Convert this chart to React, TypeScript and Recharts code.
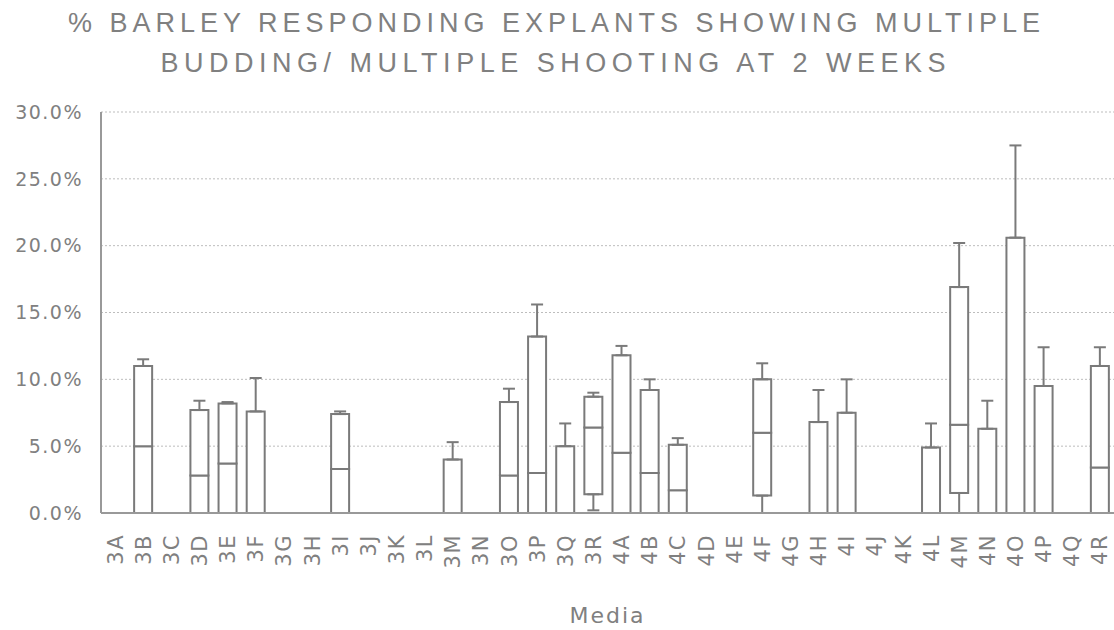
import { Bar, BarChart, CartesianGrid, ErrorBar, XAxis, YAxis } from 'recharts';

const media = [
  '3A', '3B', '3C', '3D', '3E', '3F', '3G', '3H', '3I', '3J', '3K', '3L', '3M', '3N', '3O', '3P', '3Q', '3R',
  '4A', '4B', '4C', '4D', '4E', '4F', '4G', '4H', '4I', '4J', '4K', '4L', '4M', '4N', '4O', '4P', '4Q', '4R',
];

// box plot parts, % of responding explants
const whiskerMin = [
  0, 0, 0, 0, 0, 0, 0, 0, 0, 0, 0, 0, 0, 0, 0, 0, 0, 0.2,
  0, 0, 0, 0, 0, 0, 0, 0, 0, 0, 0, 0, 0, 0, 0, 0, 0, 0,
];
const boxLow = [
  0, 0, 0, 0, 0, 0, 0, 0, 0, 0, 0, 0, 0, 0, 0, 0, 0, 1.4,
  0, 0, 0, 0, 0, 1.3, 0, 0, 0, 0, 0, 0, 1.5, 0, 0, 0, 0, 0,
];
const median = [
  0, 5.0, 0, 2.8, 3.7, 0, 0, 0, 3.3, 0, 0, 0, 0, 0, 2.8, 3.0, 0, 6.4,
  4.5, 3.0, 1.7, 0, 0, 6.0, 0, 0, 0, 0, 0, 0, 6.6, 0, 0, 0, 0, 3.4,
];
const boxHigh = [
  0, 11.0, 0, 7.7, 8.2, 7.6, 0, 0, 7.4, 0, 0, 0, 4.0, 0, 8.3, 13.2, 5.0, 8.7,
  11.8, 9.2, 5.1, 0, 0, 10.0, 0, 6.8, 7.5, 0, 0, 4.9, 16.9, 6.3, 20.6, 9.5, 0, 11.0,
];
const whiskerMax = [
  0, 11.5, 0, 8.4, 8.3, 10.1, 0, 0, 7.6, 0, 0, 0, 5.3, 0, 9.3, 15.6, 6.7, 9.0,
  12.5, 10.0, 5.6, 0, 0, 11.2, 0, 9.2, 10.0, 0, 0, 6.7, 20.2, 8.4, 27.5, 12.4, 0, 12.4,
];
const yTicks = [0, 5, 10, 15, 20, 25, 30];

const data = media.map((m, i) => ({
  media: m,
  base: boxLow[i],
  lower: median[i] - boxLow[i],
  upper: boxHigh[i] - median[i],
  lowWhisker: boxLow[i] > whiskerMin[i] ? [boxLow[i] - whiskerMin[i], 0] : null,
  highWhisker: whiskerMax[i] > boxHigh[i] ? [0, whiskerMax[i] - boxHigh[i]] : null,
}));

const TEXT = '#808080';
const LINE = '#7a7a7a';

const MediaTick = ({ x, y, payload }: any) => (
  <g transform={`translate(${x},${y})`}>
    <text
      x={-21}
      y={0}
      dy="0.36em"
      textAnchor="end"
      transform="rotate(-90)"
      fill={TEXT}
      fontSize={21}
      fontFamily="DejaVu Sans"
      letterSpacing={1.5}
    >
      {payload.value}
    </text>
  </g>
);

export default function App() {
  return (
    <div style={{ position: 'absolute', left: 0, top: 0, width: 1114, height: 630, background: '#fff' }}>
      <BarChart
        width={1114}
        height={630}
        data={data}
        margin={{ top: 112, right: 0, bottom: 10, left: 0 }}
        barSize={18}
      >
        <CartesianGrid vertical={false} stroke="#bdbdbd" strokeDasharray="2 2" />
        <XAxis
          dataKey="media"
          interval={0}
          tickLine={false}
          tickSize={0}
          tickMargin={0}
          height={107}
          axisLine={{ stroke: '#999', strokeWidth: 2 }}
          tick={<MediaTick />}
          label={{
            value: 'Media',
            position: 'insideBottom',
            offset: -3,
            fill: TEXT,
            fontSize: 22,
            fontFamily: 'DejaVu Sans',
            letterSpacing: 2,
          }}
        />
        <YAxis
          domain={[0, 30]}
          ticks={yTicks}
          width={101}
          tickLine={false}
          tickSize={0}
          tickMargin={18}
          axisLine={{ stroke: '#999', strokeWidth: 2 }}
          tickFormatter={(v: number) => `${v.toFixed(1)}%`}
          tick={{ fill: TEXT, fontSize: 19, fontFamily: 'DejaVu Sans', letterSpacing: 1.5 }}
        />
        <Bar dataKey="base" stackId="box" fill="none" stroke="none" isAnimationActive={false}>
          <ErrorBar dataKey="lowWhisker" width={6} stroke={LINE} strokeWidth={2} />
        </Bar>
        <Bar dataKey="lower" stackId="box" fill="#fff" stroke={LINE} strokeWidth={2} isAnimationActive={false} />
        <Bar dataKey="upper" stackId="box" fill="#fff" stroke={LINE} strokeWidth={2} isAnimationActive={false}>
          <ErrorBar dataKey="highWhisker" width={6} stroke={LINE} strokeWidth={2} />
        </Bar>
      </BarChart>
      <svg
        width={1114}
        height={90}
        style={{ position: 'absolute', left: 0, top: 0, pointerEvents: 'none' }}
      >
        <text
          x={554}
          y={32}
          textAnchor="middle"
          textLength={972}
          lengthAdjust="spacing"
          fill={TEXT}
          fontSize={27}
          fontFamily="Liberation Sans"
        >
          % BARLEY RESPONDING EXPLANTS SHOWING MULTIPLE
        </text>
        <text
          x={553}
          y={72}
          textAnchor="middle"
          textLength={785}
          lengthAdjust="spacing"
          fill={TEXT}
          fontSize={27}
          fontFamily="Liberation Sans"
        >
          BUDDING/ MULTIPLE SHOOTING AT 2 WEEKS
        </text>
      </svg>
    </div>
  );
}
